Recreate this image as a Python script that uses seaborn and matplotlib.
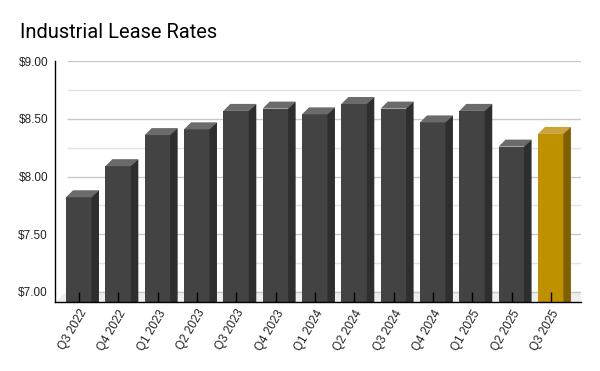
import numpy as np
import matplotlib
matplotlib.use("Agg")
import matplotlib.pyplot as plt
from matplotlib.patches import Polygon
import seaborn as sns

# Data
quarters = ["Q3 2022", "Q4 2022", "Q1 2023", "Q2 2023", "Q3 2023", "Q4 2023",
            "Q1 2024", "Q2 2024", "Q3 2024", "Q4 2024", "Q1 2025", "Q2 2025", "Q3 2025"]
rates = [7.82, 8.09, 8.36, 8.41, 8.57, 8.59, 8.54, 8.63, 8.59, 8.47, 8.57, 8.26, 8.37]
highlight = "Q3 2025"

# face colours: front, top, side
dark = ("#434343", "#6b6b6b", "#2e2e2e")
gold = ("#bf9000", "#c9a43a", "#7f6000")

sns.set_style("white")
plt.rcParams["font.family"] = ["Liberation Sans", "DejaVu Sans"]

fig = plt.figure(figsize=(6, 3.71), dpi=100)
ax = fig.add_axes([0.0917, 0.186, 0.877, 0.650])

palette = {q: (gold[0] if q == highlight else dark[0]) for q in quarters}
sns.barplot(x=quarters, y=rates, hue=quarters, palette=palette, legend=False,
            width=0.66, saturation=1, linewidth=0, edgecolor="none", ax=ax, zorder=3)

ax.set_xlim(-0.61, 12.77)
ax.set_ylim(6.91, 9.005)

# pixel -> data scale for the fake 3D depth
fig.canvas.draw()
bbox = ax.get_window_extent()
px_x = (ax.get_xlim()[1] - ax.get_xlim()[0]) / bbox.width
px_y = (ax.get_ylim()[1] - ax.get_ylim()[0]) / bbox.height
dx, dy = 7 * px_x, 7 * px_y
ybot = ax.get_ylim()[0]

# back wall gridlines and floor
wall = -0.61 + 12 * px_x
for v in np.arange(7.0, 9.01, 0.25):
    major = abs((v * 2) - round(v * 2)) < 1e-6
    ax.hlines(v, wall, 12.77, color="#c8c8c8" if major else "#e2e2e2",
              lw=1, zorder=1)
ax.add_patch(Polygon([(-0.61, ybot), (wall, 7.0), (12.77, 7.0), (12.77, ybot)],
                     closed=True, color="#eeeeee", lw=0, zorder=0))

# top and side faces for each bar
for patch, q in zip(ax.patches, quarters):
    cols = gold if q == highlight else dark
    x0 = patch.get_x()
    x1 = x0 + patch.get_width()
    top = patch.get_height()
    ax.add_patch(Polygon([(x0, top), (x1, top), (x1 + dx, top + dy), (x0 + dx, top + dy)],
                         closed=True, color=cols[1], lw=0, zorder=3))
    ax.add_patch(Polygon([(x1 - 0.5 * px_x, ybot), (x1 - 0.5 * px_x, top),
                          (x1 + dx, top + dy), (x1 + dx, ybot)],
                         closed=True, color=cols[2], lw=0, zorder=3))

ax.set_yticks([7.0, 7.5, 8.0, 8.5, 9.0])
ax.set_yticklabels([f"${v:.2f}" for v in [7.0, 7.5, 8.0, 8.5, 9.0]])
ax.tick_params(axis="y", left=False, length=0, pad=5, labelsize=8.5, labelcolor="#222222")
ax.tick_params(axis="x", bottom=True, direction="in", length=7.5, width=1, color="black",
               labelsize=8.5, labelcolor="#222222", pad=4)
for lab in ax.get_xticklabels():
    lab.set_rotation(60)
    lab.set_ha("right")
    lab.set_rotation_mode("anchor")
ax.xaxis.set_zorder(6)

ax.set_xlabel("")
ax.set_ylabel("")
sns.despine(ax=ax)
for side in ["left", "bottom"]:
    ax.spines[side].set_color("black")
    ax.spines[side].set_linewidth(1)
    ax.spines[side].set_zorder(6)

fig.text(0.033, 0.912, "Industrial Lease Rates", fontsize=14.5,
         family=["Roboto", "DejaVu Sans"], color="black", va="center")

fig.savefig("out.png", dpi=100)
